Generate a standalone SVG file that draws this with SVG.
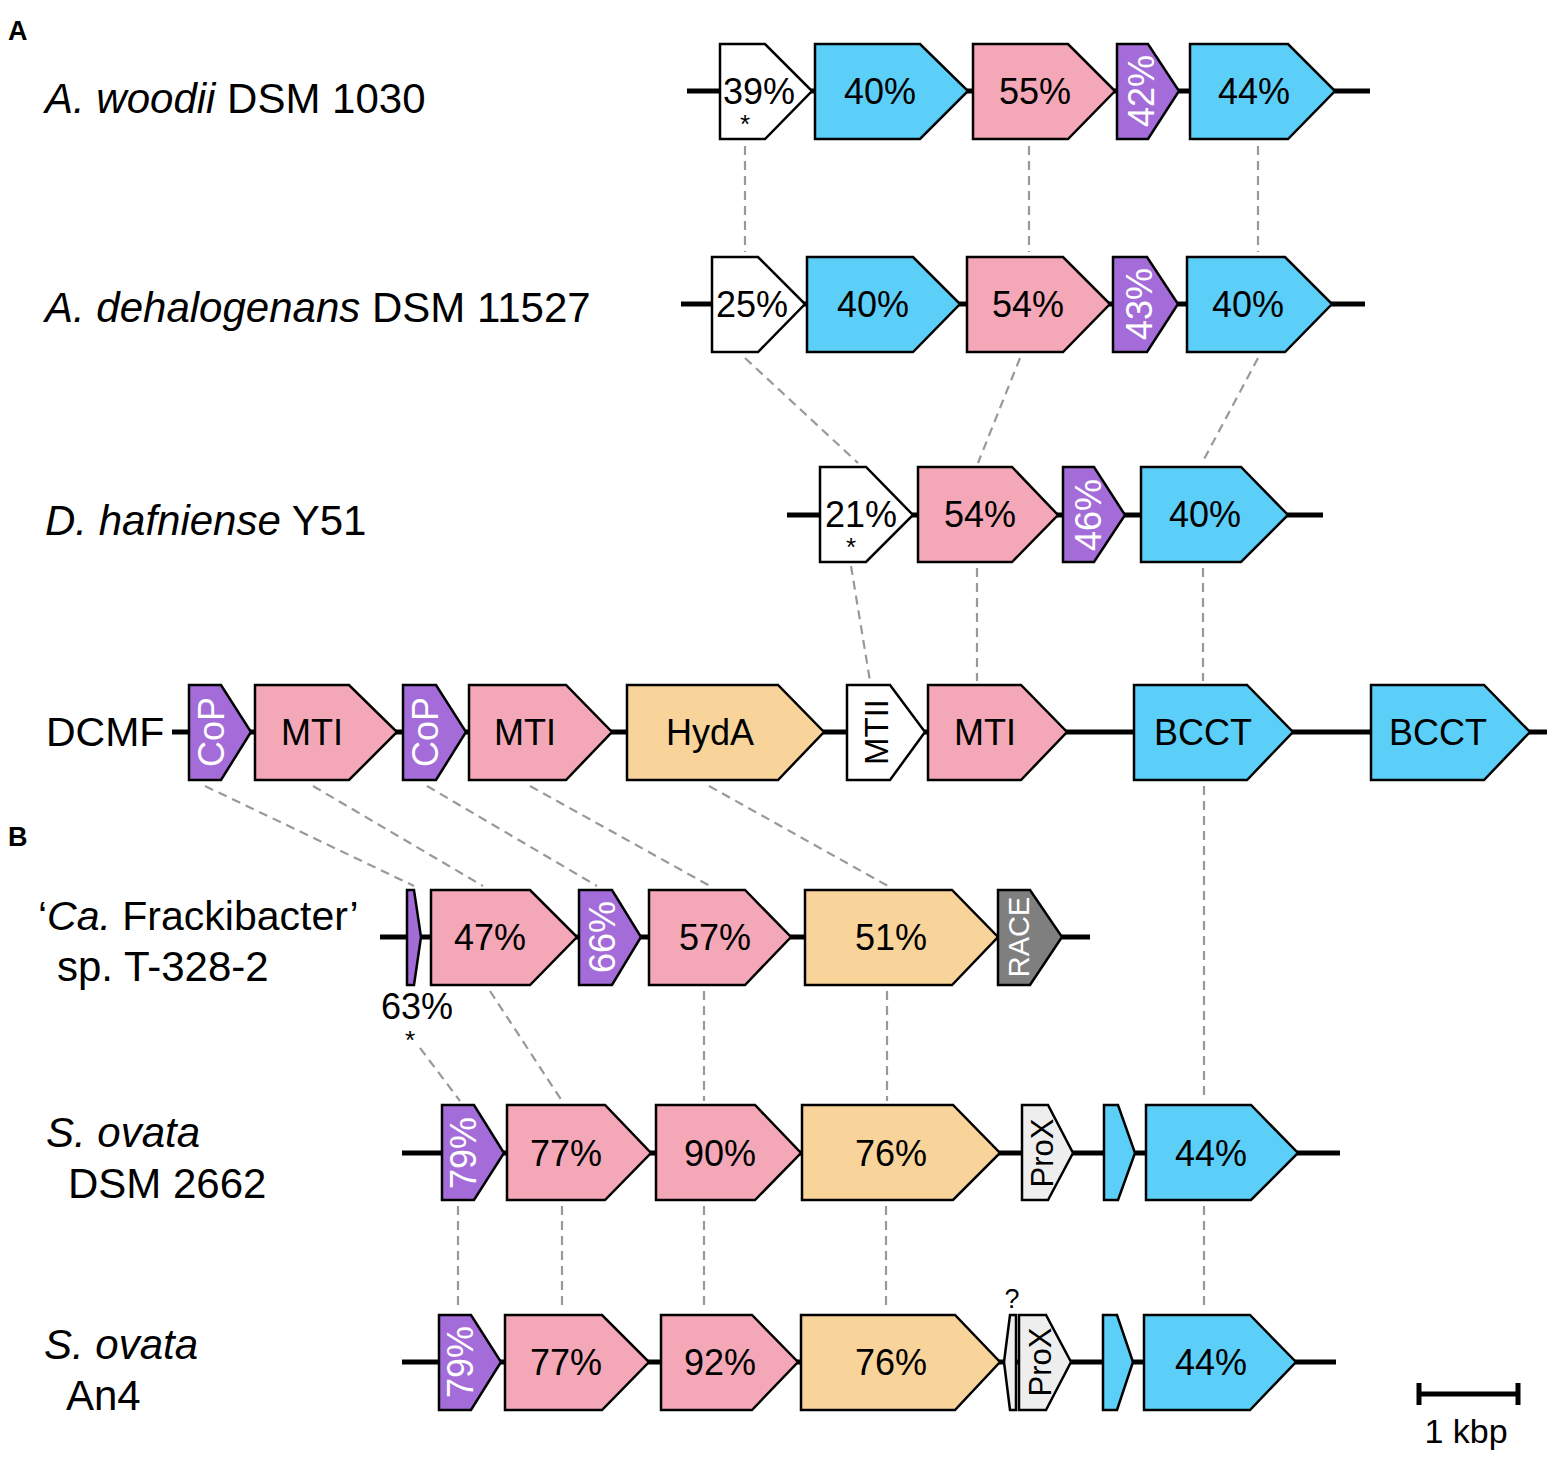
<svg xmlns="http://www.w3.org/2000/svg" width="1562" height="1462" viewBox="0 0 1562 1462">
<style>
text{font-family:"Liberation Sans",Arial,sans-serif;fill:#000}
.lab{font-size:42px}
.pan{font-size:27px;font-weight:bold}
.gt{font-size:36px;text-anchor:middle}
.rt{font-size:36px;text-anchor:middle;fill:#fff}
.g{stroke:#000;stroke-width:2.5;stroke-linejoin:miter}
.w{fill:#fff}.b{fill:#5CCFF8}.p{fill:#F4A8B7}.u{fill:#A46CD8}.o{fill:#F8D49B}.k{fill:#7F7F7F}.l{fill:#EEEEEE}
.bb{stroke:#000;stroke-width:5}
.dl{stroke:#999;stroke-width:2.2;stroke-dasharray:9 6;fill:none}
.st{font-size:26px;text-anchor:middle}
</style>

<text class="pan" x="8" y="40">A</text>
<text class="pan" x="8" y="846">B</text>

<g id="labels">
<text class="lab" x="45" y="113"><tspan font-style="italic">A. woodii</tspan> DSM 1030</text>
<text class="lab" x="45" y="322"><tspan font-style="italic">A. dehalogenans</tspan> DSM 11527</text>
<text class="lab" x="45" y="535"><tspan font-style="italic">D. hafniense</tspan> Y51</text>
<text class="lab" x="46" y="746" style="font-size:41px">DCMF</text>
<text class="lab" x="38" y="930" style="font-size:41px">‘<tspan font-style="italic">Ca.</tspan> Frackibacter’</text>
<text class="lab" x="57" y="981">sp. T-328-2</text>
<text class="lab" x="46" y="1147" font-style="italic">S. ovata</text>
<text class="lab" x="68" y="1198">DSM 2662</text>
<text class="lab" x="44" y="1359" font-style="italic">S. ovata</text>
<text class="lab" x="66" y="1410">An4</text>
</g>

<g id="connectors">
<line class="dl" x1="745" y1="146" x2="745" y2="252"/>
<line class="dl" x1="1029" y1="146" x2="1029" y2="252"/>
<line class="dl" x1="1258" y1="146" x2="1258" y2="252"/>
<line class="dl" x1="745" y1="358" x2="858" y2="463"/>
<line class="dl" x1="1020" y1="358" x2="978" y2="463"/>
<line class="dl" x1="1258" y1="358" x2="1202" y2="463"/>
<line class="dl" x1="851" y1="566" x2="870" y2="681"/>
<line class="dl" x1="977" y1="568" x2="977" y2="681"/>
<line class="dl" x1="1203" y1="568" x2="1203" y2="681"/>
<line class="dl" x1="205" y1="786" x2="414" y2="886"/>
<line class="dl" x1="313" y1="786" x2="483" y2="886"/>
<line class="dl" x1="427" y1="786" x2="597" y2="886"/>
<line class="dl" x1="530" y1="786" x2="710" y2="886"/>
<line class="dl" x1="709" y1="786" x2="888" y2="886"/>
<line class="dl" x1="1204" y1="786" x2="1204" y2="1101"/>
<line class="dl" x1="420" y1="1048" x2="460" y2="1101"/>
<line class="dl" x1="490" y1="991" x2="562" y2="1101"/>
<line class="dl" x1="704" y1="991" x2="704" y2="1101"/>
<line class="dl" x1="887" y1="991" x2="887" y2="1101"/>
<line class="dl" x1="458" y1="1206" x2="458" y2="1310"/>
<line class="dl" x1="562" y1="1206" x2="562" y2="1310"/>
<line class="dl" x1="704" y1="1206" x2="704" y2="1310"/>
<line class="dl" x1="886" y1="1206" x2="886" y2="1310"/>
<line class="dl" x1="1204" y1="1206" x2="1204" y2="1310"/>
</g>

<g id="row1">
<line class="bb" x1="687" y1="91" x2="1370" y2="91"/>
<g id="r1g1"><polygon class="g w" points="720,44 765,44 812,91 765,139 720,139"/><text class="gt" x="759" y="104">39%</text><text class="st" x="745" y="133">*</text></g>
<g id="r1g2"><polygon class="g b" points="815,44 920,44 968,91 920,139 815,139"/><text class="gt" x="880" y="104">40%</text></g>
<g id="r1g3"><polygon class="g p" points="973,44 1068,44 1115,91 1068,139 973,139"/><text class="gt" x="1035" y="104">55%</text></g>
<g id="r1g4"><polygon class="g u" points="1117,44 1148,44 1179,91 1148,139 1117,139"/><text class="rt" transform="translate(1141,91) rotate(-90)" dy="13">42%</text></g>
<g id="r1g5"><polygon class="g b" points="1190,44 1288,44 1335,91 1288,139 1190,139"/><text class="gt" x="1254" y="104">44%</text></g>
</g>

<g id="row2">
<line class="bb" x1="681" y1="304" x2="1365" y2="304"/>
<g id="r2g1"><polygon class="g w" points="712,257 758,257 805,304 758,352 712,352"/><text class="gt" x="752" y="317">25%</text></g>
<g id="r2g2"><polygon class="g b" points="807,257 913,257 960,304 913,352 807,352"/><text class="gt" x="873" y="317">40%</text></g>
<g id="r2g3"><polygon class="g p" points="967,257 1063,257 1110,304 1063,352 967,352"/><text class="gt" x="1028" y="317">54%</text></g>
<g id="r2g4"><polygon class="g u" points="1113,257 1147,257 1178,304 1147,352 1113,352"/><text class="rt" transform="translate(1139,304) rotate(-90)" dy="13">43%</text></g>
<g id="r2g5"><polygon class="g b" points="1187,257 1285,257 1332,304 1285,352 1187,352"/><text class="gt" x="1248" y="317">40%</text></g>
</g>

<g id="row3">
<line class="bb" x1="787" y1="515" x2="1323" y2="515"/>
<g id="r3g1"><polygon class="g w" points="820,467 866,467 913,515 866,562 820,562"/><text class="gt" x="861" y="527">21%</text><text class="st" x="851" y="556">*</text></g>
<g id="r3g2"><polygon class="g p" points="918,467 1012,467 1058,515 1012,562 918,562"/><text class="gt" x="980" y="527">54%</text></g>
<g id="r3g3"><polygon class="g u" points="1063,467 1094,467 1125,515 1094,562 1063,562"/><text class="rt" transform="translate(1088,515) rotate(-90)" dy="13">46%</text></g>
<g id="r3g4"><polygon class="g b" points="1141,467 1241,467 1288,515 1241,562 1141,562"/><text class="gt" x="1205" y="527">40%</text></g>
</g>

<g id="row4">
<line class="bb" x1="172" y1="732" x2="1547" y2="732"/>
<g id="r4g1"><polygon class="g u" points="189,685 221,685 251,732 221,780 189,780"/><text class="rt" transform="translate(211,732) rotate(-90)" dy="13">CoP</text></g>
<g id="r4g2"><polygon class="g p" points="255,685 349,685 397,732 349,780 255,780"/><text class="gt" x="312" y="745">MTI</text></g>
<g id="r4g3"><polygon class="g u" points="403,685 436,685 466,732 436,780 403,780"/><text class="rt" transform="translate(425,732) rotate(-90)" dy="13">CoP</text></g>
<g id="r4g4"><polygon class="g p" points="469,685 566,685 612,732 566,780 469,780"/><text class="gt" x="525" y="745">MTI</text></g>
<g id="r4g5"><polygon class="g o" points="627,685 778,685 824,732 778,780 627,780"/><text class="gt" x="710" y="745">HydA</text></g>
<g id="r4g6"><polygon class="g w" points="847,685 890,685 925,732 890,780 847,780"/><text class="gt" style="font-size:33px" transform="translate(876,732) rotate(-90)" dy="12">MTII</text></g>
<g id="r4g7"><polygon class="g p" points="928,685 1021,685 1067,732 1021,780 928,780"/><text class="gt" x="985" y="745">MTI</text></g>
<g id="r4g8"><polygon class="g b" points="1134,685 1247,685 1293,732 1247,780 1134,780"/><text class="gt" x="1203" y="745">BCCT</text></g>
<g id="r4g9"><polygon class="g b" points="1371,685 1484,685 1530,732 1484,780 1371,780"/><text class="gt" x="1438" y="745">BCCT</text></g>
</g>

<g id="row5">
<line class="bb" x1="380" y1="937" x2="1090" y2="937"/>
<g id="r5g1"><polygon class="g u" points="407,890 414,890 421,937 414,985 407,985"/><text class="gt" x="417" y="1019">63%</text><text class="st" x="410" y="1049">*</text></g>
<g id="r5g2"><polygon class="g p" points="431,890 530,890 577,937 530,985 431,985"/><text class="gt" x="490" y="950">47%</text></g>
<g id="r5g3"><polygon class="g u" points="579,890 612,890 641,937 612,985 579,985"/><text class="rt" transform="translate(602,937) rotate(-90)" dy="13">66%</text></g>
<g id="r5g4"><polygon class="g p" points="649,890 745,890 791,937 745,985 649,985"/><text class="gt" x="715" y="950">57%</text></g>
<g id="r5g5"><polygon class="g o" points="805,890 952,890 998,937 952,985 805,985"/><text class="gt" x="891" y="950">51%</text></g>
<g id="r5g6"><polygon class="g k" points="998,890 1030,890 1062,937 1030,985 998,985"/><text class="rt" style="font-size:29px" transform="translate(1019,937) rotate(-90)" dy="10">RACE</text></g>
</g>

<g id="row6">
<line class="bb" x1="402" y1="1153" x2="1340" y2="1153"/>
<g id="r6g1"><polygon class="g u" points="442,1105 474,1105 504,1153 474,1200 442,1200"/><text class="rt" transform="translate(463,1153) rotate(-90)" dy="13">79%</text></g>
<g id="r6g2"><polygon class="g p" points="507,1105 605,1105 651,1153 605,1200 507,1200"/><text class="gt" x="566" y="1166">77%</text></g>
<g id="r6g3"><polygon class="g p" points="656,1105 755,1105 801,1153 755,1200 656,1200"/><text class="gt" x="720" y="1166">90%</text></g>
<g id="r6g4"><polygon class="g o" points="802,1105 953,1105 1000,1153 953,1200 802,1200"/><text class="gt" x="891" y="1166">76%</text></g>
<g id="r6g5"><polygon class="g l" points="1022,1105 1048,1105 1073,1153 1048,1200 1022,1200"/><text class="gt" style="font-size:31px" transform="translate(1042,1153) rotate(-90)" dy="11">ProX</text></g>
<g id="r6g6"><polygon class="g b" points="1104,1105 1118,1105 1135,1153 1118,1200 1104,1200"/></g>
<g id="r6g7"><polygon class="g b" points="1146,1105 1251,1105 1298,1153 1251,1200 1146,1200"/><text class="gt" x="1211" y="1166">44%</text></g>
</g>

<g id="row7">
<line class="bb" x1="402" y1="1362" x2="1336" y2="1362"/>
<g id="r7g1"><polygon class="g u" points="439,1315 471,1315 501,1362 471,1410 439,1410"/><text class="rt" transform="translate(460,1362) rotate(-90)" dy="13">79%</text></g>
<g id="r7g2"><polygon class="g p" points="505,1315 602,1315 649,1362 602,1410 505,1410"/><text class="gt" x="566" y="1375">77%</text></g>
<g id="r7g3"><polygon class="g p" points="661,1315 752,1315 798,1362 752,1410 661,1410"/><text class="gt" x="720" y="1375">92%</text></g>
<g id="r7g4"><polygon class="g o" points="801,1315 955,1315 1000,1362 955,1410 801,1410"/><text class="gt" x="891" y="1375">76%</text></g>
<g id="r7g5"><polygon class="g l" points="1016,1315 1010,1315 1004,1362 1010,1410 1016,1410"/><text class="gt" style="font-size:27px" x="1012" y="1308">?</text></g>
<g id="r7g6"><polygon class="g l" points="1019,1315 1046,1315 1071,1362 1046,1410 1019,1410"/><text class="gt" style="font-size:31px" transform="translate(1040,1362) rotate(-90)" dy="11">ProX</text></g>
<g id="r7g7"><polygon class="g b" points="1103,1315 1117,1315 1133,1362 1117,1410 1103,1410"/></g>
<g id="r7g8"><polygon class="g b" points="1144,1315 1250,1315 1296,1362 1250,1410 1144,1410"/><text class="gt" x="1211" y="1375">44%</text></g>
</g>

<g id="scalebar">
<line x1="1418" y1="1394" x2="1519" y2="1394" stroke="#000" stroke-width="5"/>
<line x1="1419" y1="1383" x2="1419" y2="1405" stroke="#000" stroke-width="5"/>
<line x1="1518" y1="1383" x2="1518" y2="1405" stroke="#000" stroke-width="5"/>
<text x="1466" y="1443" font-size="34" text-anchor="middle">1 kbp</text>
</g>
</svg>
